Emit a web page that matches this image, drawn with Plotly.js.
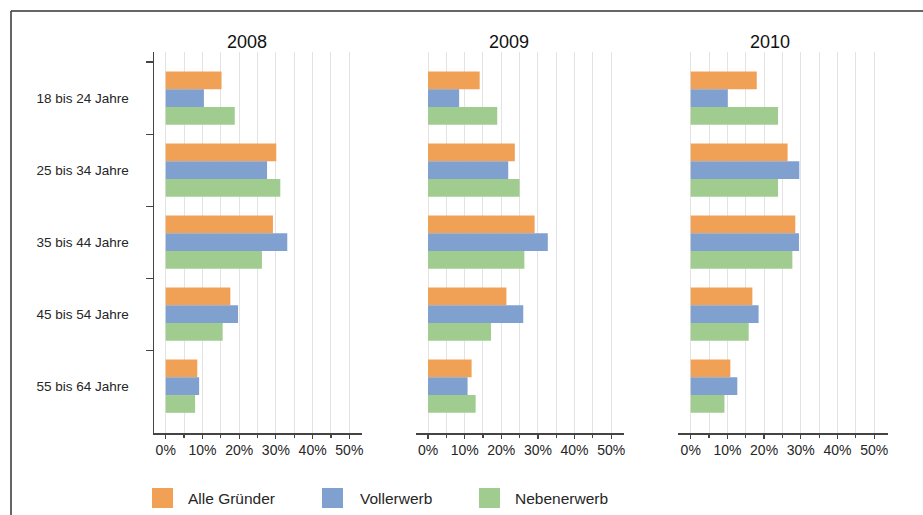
<!DOCTYPE html>
<html>
<head>
<meta charset="utf-8">
<script src="https://cdn.plot.ly/plotly-3.0.1.min.js"></script>
<style>html,body{margin:0;padding:0;background:#fff;}#chart{width:923px;height:515px;}</style>
</head>
<body>
<div id="chart"></div>
<script>
// ---- data ----
const categories = ['18 bis 24 Jahre', '25 bis 34 Jahre', '35 bis 44 Jahre', '45 bis 54 Jahre', '55 bis 64 Jahre'];
const years = ['2008', '2009', '2010'];
const seriesNames = ['Alle Gründer', 'Vollerwerb', 'Nebenerwerb'];
const seriesColors = ['#F1A156', '#80A0D0', '#A0CC90'];
const xTickVals = [0, 10, 20, 30, 40, 50];
const xTickText = ['0%', '10%', '20%', '30%', '40%', '50%'];

const alle2008 = [15.2, 30.1, 29.2, 17.6, 8.6];
const voll2008 = [10.4, 27.6, 33.1, 19.7, 9.1];
const neben2008 = [18.8, 31.2, 26.2, 15.5, 8.0];

const alle2009 = [14.1, 23.7, 29.1, 21.4, 11.9];
const voll2009 = [8.5, 21.9, 32.7, 26.0, 10.8];
const neben2009 = [18.9, 25.0, 26.3, 17.2, 13.0];

const alle2010 = [18.0, 26.4, 28.5, 16.8, 10.8];
const voll2010 = [10.1, 29.6, 29.5, 18.5, 12.7];
const neben2010 = [23.8, 23.8, 27.7, 15.8, 9.2];

const dataByYear = [
  [alle2008, voll2008, neben2008],
  [alle2009, voll2009, neben2009],
  [alle2010, voll2010, neben2010]
];

// ---- layout helpers ----
const W = 923, H = 515;
const px = x => x / W;
const py = y => 1 - y / H;
const FONT = 'Liberation Sans, Arial, sans-serif';
const TXT = '#262626';

const panelPx = [[154, 362], [416, 624], [678, 888]];
const panelRange = [[-3.19, 53.45], [-3.28, 53.5], [-3.46, 53.76]];
const titleX = [247, 509, 770];

const traces = [];
years.forEach((yr, p) => {
  const ax = p === 0 ? '' : String(p + 1);
  seriesNames.forEach((name, s) => {
    traces.push({
      type: 'bar',
      orientation: 'h',
      name: name,
      y: categories,
      x: dataByYear[p][s],
      xaxis: 'x' + ax,
      yaxis: 'y' + ax,
      marker: {color: seriesColors[s], line: {width: 0}},
      showlegend: false,
      hoverinfo: 'x+y+name'
    });
  });
});

const layout = {
  width: W, height: H,
  margin: {l: 0, r: 0, t: 0, b: 0},
  paper_bgcolor: '#fff', plot_bgcolor: 'rgba(0,0,0,0)',
  barmode: 'group', bargap: 0.26, bargroupgap: 0,
  font: {family: FONT, color: TXT, size: 13},
  showlegend: false,
  shapes: [
    {type: 'line', xref: 'paper', yref: 'paper', x0: px(11), x1: 1.01, y0: py(11), y1: py(11), line: {color: '#333', width: 1.5}},
    {type: 'line', xref: 'paper', yref: 'paper', x0: px(11), x1: px(11), y0: py(11), y1: -0.01, line: {color: '#333', width: 1.5}}
  ],
  annotations: []
};

const yDomain = [py(433), py(52)];
years.forEach((yr, p) => {
  const ax = p === 0 ? '' : String(p + 1);
  layout['xaxis' + ax] = {
    domain: [px(panelPx[p][0]), px(panelPx[p][1])],
    range: panelRange[p],
    anchor: 'y' + ax,
    tickmode: 'array', tickvals: xTickVals, ticktext: xTickText,
    ticks: 'outside', ticklen: 4, tickwidth: 1.2, tickcolor: '#444',
    showline: true, linecolor: '#444', linewidth: 1.5,
    showgrid: true, gridcolor: '#e3e3e3', gridwidth: 1,
    zeroline: false,
    minor: {dtick: 5, tick0: 5, ticks: 'outside', ticklen: 3, tickcolor: '#444', showgrid: true, gridcolor: '#e3e3e3', gridwidth: 1},
    tickfont: {family: FONT, size: 14, color: TXT},
    fixedrange: true, automargin: false
  };
  layout['yaxis' + ax] = {
    domain: yDomain,
    anchor: 'x' + ax,
    type: 'category',
    categoryorder: 'array', categoryarray: categories,
    range: [4.65, -0.64],
    showgrid: false, zeroline: false,
    showline: p === 0, linecolor: '#444', linewidth: 1.5,
    ticks: p === 0 ? 'outside' : '', tickson: 'boundaries', ticklen: 7, tickwidth: 1.2, tickcolor: '#444',
    showticklabels: p === 0,
    ticklabelstandoff: 21,
    tickfont: {family: FONT, size: 13.5, color: TXT},
    fixedrange: true, automargin: false
  };
  layout.annotations.push({
    xref: 'paper', yref: 'paper', x: px(titleX[p]), y: py(42),
    xanchor: 'center', yanchor: 'middle', showarrow: false,
    text: yr, font: {family: FONT, size: 18, color: '#111'}
  });
});

// legend drawn as shapes + text
const legendSq = [152, 322, 479];
const legendTx = [186, 358, 513];
seriesNames.forEach((name, s) => {
  layout.shapes.push({
    type: 'rect', xref: 'paper', yref: 'paper',
    x0: px(legendSq[s]), x1: px(legendSq[s] + 21), y0: py(508), y1: py(488),
    fillcolor: seriesColors[s], line: {width: 0}
  });
  layout.annotations.push({
    xref: 'paper', yref: 'paper', x: px(legendTx[s]), y: py(498),
    xanchor: 'left', yanchor: 'middle', showarrow: false,
    text: name, font: {family: FONT, size: 15.5, color: TXT}
  });
});

Plotly.newPlot('chart', traces, layout, {displayModeBar: false, staticPlot: true});
</script>
</body>
</html>
